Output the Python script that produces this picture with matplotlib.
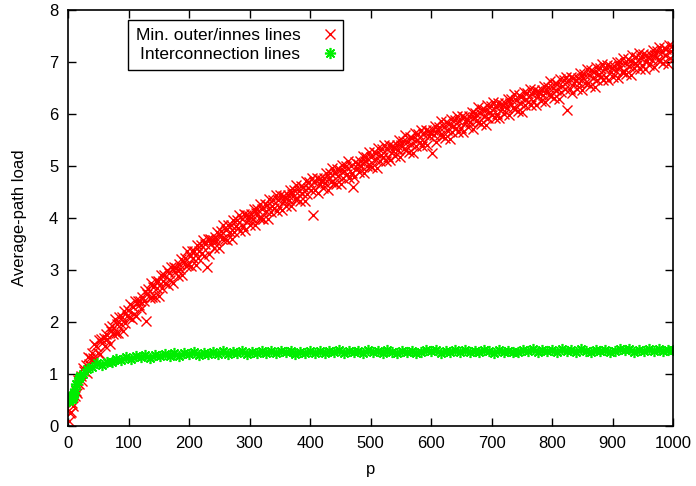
import numpy as np
import matplotlib
matplotlib.use("Agg")
import matplotlib.pyplot as plt

plt.rcParams['font.family'] = ['Liberation Sans', 'DejaVu Sans']

# red series, p = 1, 3, 5, ... 999
p_outer = np.arange(1, 1000, 2)
load_outer = [
    0.10, 0.25, 0.27, 0.45, 0.38, 0.58, 0.68, 0.64, 0.88, 0.80,
    0.96, 0.87, 1.11, 1.06, 1.18, 1.02, 1.32, 1.19, 1.30, 1.41,
    1.31, 1.58, 1.29, 1.53, 1.41, 1.66, 1.38, 1.68, 1.60, 1.69,
    1.54, 1.77, 1.68, 1.89, 1.58, 1.83, 1.92, 1.77, 2.05, 1.79,
    1.97, 1.78, 2.09, 1.96, 2.09, 1.83, 2.22, 1.98, 2.12, 2.24,
    2.09, 2.35, 2.05, 2.28, 2.16, 2.40, 2.12, 2.41, 2.32, 2.41,
    2.26, 2.48, 2.40, 2.60, 2.02, 2.54, 2.63, 2.47, 2.75, 2.49,
    2.67, 2.48, 2.78, 2.65, 2.78, 2.51, 2.90, 2.66, 2.79, 2.91,
    2.76, 3.01, 2.71, 2.94, 2.81, 3.05, 2.76, 3.05, 2.96, 3.04,
    2.89, 3.11, 3.02, 3.22, 2.91, 3.15, 3.24, 3.08, 3.36, 3.09,
    3.27, 3.08, 3.37, 3.24, 3.37, 3.09, 3.48, 3.24, 3.36, 3.48,
    3.33, 3.57, 3.27, 3.50, 3.05, 3.60, 3.31, 3.59, 3.50, 3.58,
    3.42, 3.64, 3.55, 3.74, 3.43, 3.67, 3.75, 3.59, 3.87, 3.59,
    3.77, 3.57, 3.87, 3.73, 3.86, 3.59, 3.97, 3.73, 3.85, 3.97,
    3.81, 4.06, 3.75, 3.98, 3.84, 4.08, 3.78, 4.06, 3.97, 4.04,
    3.87, 4.08, 3.99, 4.18, 3.86, 4.09, 4.18, 4.01, 4.28, 4.00,
    4.18, 3.98, 4.27, 4.14, 4.26, 3.98, 4.36, 4.12, 4.24, 4.35,
    4.19, 4.44, 4.13, 4.35, 4.21, 4.45, 4.15, 4.43, 4.33, 4.40,
    4.24, 4.45, 4.35, 4.55, 4.23, 4.46, 4.54, 4.37, 4.64, 4.36,
    4.53, 4.33, 4.62, 4.48, 4.60, 4.33, 4.71, 4.46, 4.58, 4.69,
    4.54, 4.78, 4.05, 4.69, 4.55, 4.78, 4.48, 4.76, 4.66, 4.73,
    4.57, 4.78, 4.68, 4.87, 4.55, 4.78, 4.86, 4.69, 4.96, 4.68,
    4.86, 4.66, 4.95, 4.81, 4.93, 4.65, 5.03, 4.78, 4.90, 5.01,
    4.85, 5.09, 4.78, 5.00, 4.86, 4.60, 4.79, 5.07, 4.97, 5.04,
    4.88, 5.09, 5.00, 5.19, 4.87, 5.10, 5.18, 5.01, 5.28, 5.01,
    5.18, 4.98, 5.27, 5.13, 5.25, 4.97, 5.35, 5.10, 5.22, 5.33,
    5.17, 5.41, 5.10, 5.32, 5.18, 5.41, 5.11, 5.39, 5.29, 5.36,
    5.20, 5.41, 5.31, 5.50, 5.18, 5.41, 5.49, 5.32, 5.59, 5.31,
    5.47, 5.27, 5.56, 5.42, 5.54, 5.26, 5.64, 5.39, 5.51, 5.62,
    5.46, 5.70, 5.39, 5.61, 5.47, 5.70, 5.40, 5.68, 5.58, 5.65,
    5.25, 5.69, 5.59, 5.78, 5.46, 5.69, 5.76, 5.59, 5.86, 5.58,
    5.75, 5.55, 5.84, 5.70, 5.82, 5.53, 5.91, 5.66, 5.78, 5.89,
    5.73, 5.97, 5.66, 5.87, 5.73, 5.96, 5.66, 5.94, 5.84, 5.91,
    5.75, 5.96, 5.85, 6.04, 5.72, 5.95, 6.03, 5.86, 6.13, 5.85,
    6.02, 5.82, 6.10, 5.96, 6.08, 5.80, 6.18, 5.93, 6.05, 6.16,
    5.99, 6.23, 5.92, 6.14, 6.00, 6.22, 5.92, 6.20, 6.10, 6.17,
    6.01, 6.22, 6.11, 6.30, 5.98, 6.21, 6.29, 6.11, 6.38, 6.10,
    6.27, 6.07, 6.36, 6.22, 6.33, 6.05, 6.43, 6.18, 6.30, 6.41,
    6.24, 6.48, 6.17, 6.39, 6.25, 6.47, 6.17, 6.45, 6.35, 6.42,
    6.25, 6.46, 6.36, 6.55, 6.23, 6.45, 6.53, 6.36, 6.63, 6.35,
    6.51, 6.31, 6.60, 6.46, 6.58, 6.29, 6.67, 6.42, 6.54, 6.65,
    6.48, 6.72, 6.08, 6.63, 6.49, 6.71, 6.41, 6.69, 6.59, 6.66,
    6.49, 6.70, 6.60, 6.79, 6.47, 6.69, 6.77, 6.60, 6.87, 6.59,
    6.75, 6.55, 6.84, 6.70, 6.81, 6.53, 6.91, 6.66, 6.77, 6.88,
    6.72, 6.96, 6.65, 6.86, 6.72, 6.95, 6.65, 6.92, 6.82, 6.89,
    6.72, 6.93, 6.83, 7.01, 6.69, 6.92, 7.00, 6.82, 7.09, 6.81,
    6.98, 6.77, 7.06, 6.92, 7.03, 6.75, 7.13, 6.88, 6.99, 7.10,
    6.94, 7.17, 6.86, 7.08, 6.94, 7.16, 6.86, 7.14, 7.03, 7.10,
    6.94, 7.14, 7.04, 7.23, 6.91, 7.13, 7.21, 7.04, 7.30, 7.02,
    7.19, 6.99, 7.27, 7.13, 7.25, 6.96, 7.34, 7.09, 7.21, 7.32,
]

# green series: every p up to 10, then every 2 up to 20, then every 8
p_inter = np.concatenate([np.arange(1, 11), np.arange(12, 22, 2), np.arange(24, 1001, 8)])
load_inter = [
    0.50, 0.48, 0.53, 0.51, 0.55, 0.52, 0.57, 0.55, 0.60, 0.64,
    0.72, 0.80, 0.87, 0.92, 0.97,
    1.00, 1.10, 1.14, 1.21, 1.18, 1.24, 1.24, 1.29, 1.26, 1.33,
    1.29, 1.34, 1.33, 1.37, 1.31, 1.36, 1.34, 1.38, 1.34, 1.40,
    1.35, 1.40, 1.38, 1.42, 1.36, 1.40, 1.39, 1.42, 1.38, 1.44,
    1.39, 1.43, 1.41, 1.44, 1.39, 1.43, 1.41, 1.44, 1.40, 1.45,
    1.40, 1.44, 1.42, 1.45, 1.39, 1.43, 1.41, 1.44, 1.40, 1.45,
    1.41, 1.45, 1.43, 1.46, 1.40, 1.44, 1.42, 1.45, 1.41, 1.46,
    1.42, 1.44, 1.41, 1.46, 1.43, 1.40, 1.45, 1.42, 1.44, 1.41,
    1.42, 1.46, 1.44, 1.47, 1.41, 1.45, 1.43, 1.46, 1.42, 1.47,
    1.43, 1.45, 1.42, 1.47, 1.44, 1.41, 1.46, 1.43, 1.45, 1.42,
    1.43, 1.47, 1.45, 1.48, 1.42, 1.46, 1.44, 1.47, 1.43, 1.48,
    1.44, 1.46, 1.43, 1.48, 1.45, 1.42, 1.47, 1.44, 1.46, 1.43,
    1.44, 1.48, 1.46, 1.49, 1.43, 1.47, 1.45, 1.48, 1.44, 1.49,
    1.45, 1.47, 1.46,
]

xticks = [0, 100, 200, 300, 400, 500, 600, 700, 800, 900, 1000]
yticks = [0, 1, 2, 3, 4, 5, 6, 7, 8]

fig = plt.figure(figsize=(6.96, 4.86), dpi=100)
ax = fig.add_axes([0.0977, 0.1235, 0.8693, 0.8555])

ax.plot(p_outer, load_outer, 'x', color='#ff0000', ms=7, mew=1.0,
        label='Min. outer/innes lines')
ax.plot(p_inter, load_inter, ls='none', marker=(8, 2, 0), color='#00ee00',
        ms=8, mew=1.2, label='Interconnection lines')

ax.set_xlim(0, 1000)
ax.set_ylim(0, 8)
ax.set_xticks(xticks)
ax.set_yticks(yticks)
ax.tick_params(direction='in', top=True, right=True, length=6, width=1,
               labelsize=12, pad=7)
for s in ax.spines.values():
    s.set_linewidth(1.2)

ax.set_xlabel('p', fontsize=12, labelpad=8)
ax.set_ylabel('Average-path load', fontsize=12, labelpad=16)

leg = ax.legend(loc='upper left', bbox_to_anchor=(0.099, 0.976),
                markerfirst=False, fancybox=False, edgecolor='black',
                framealpha=1, fontsize=12.5, borderpad=0.45, labelspacing=0.2,
                handletextpad=1.4, handlelength=0.6, borderaxespad=0)
leg.get_frame().set_linewidth(1.0)

fig.savefig('out.png', dpi=100)
